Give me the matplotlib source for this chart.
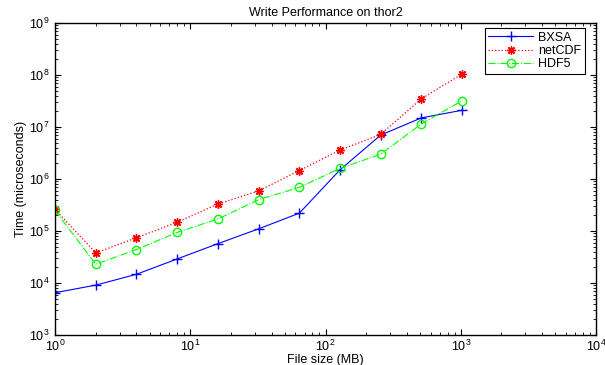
import matplotlib
matplotlib.use('Agg')
import matplotlib.pyplot as plt
from matplotlib.ticker import NullFormatter

plt.rcParams['font.family'] = ['Liberation Sans', 'DejaVu Sans']

# file sizes in MB
size_mb = [1, 2, 4, 8, 16, 32, 64, 128, 256, 512, 1024]
# write times in microseconds
bxsa = [6.5e3, 9.1e3, 1.47e4, 2.9e4, 5.7e4, 1.1e5, 2.2e5, 1.5e6, 7.0e6, 1.5e7, 2.1e7]
netcdf = [2.6e5, 3.8e4, 7.4e4, 1.47e5, 3.3e5, 5.9e5, 1.45e6, 3.6e6, 7.2e6, 3.5e7, 1.05e8]
hdf5 = [2.5e5, 2.3e4, 4.4e4, 9.4e4, 1.7e5, 4.0e5, 6.9e5, 1.6e6, 3.0e6, 1.15e7, 3.2e7]

fig = plt.figure(figsize=(6.05, 3.65), dpi=100)
ax = fig.add_axes([55/605, 30/365, 541/605, 312/365])

ax.loglog(size_mb, bxsa, color='b', ls='-', marker='+', ms=7, lw=0.8, label='BXSA')
ax.loglog(size_mb, netcdf, color='r', ls=':', marker=(8, 2, 0), ms=6, mew=1.0, lw=0.9, label='netCDF')
ax.loglog(size_mb, hdf5, color=(0, 1, 0), ls='-.', marker='o', ms=6, mfc='none', lw=0.8, label='HDF5')

ax.set_xlim(1, 1e4)
ax.set_ylim(1e3, 1e9)
ax.set_xticks([10.0**k for k in range(0, 5)])
ax.set_yticks([10.0**k for k in range(3, 10)])
ax.set_xticks([m * 10.0**k for k in range(0, 4) for m in range(2, 10)], minor=True)
ax.set_yticks([m * 10.0**k for k in range(3, 9) for m in range(2, 10)], minor=True)
ax.xaxis.set_minor_formatter(NullFormatter())
ax.yaxis.set_minor_formatter(NullFormatter())
ax.tick_params(which='both', direction='in', top=True, right=True, labelsize=9)
ax.tick_params(which='major', length=4)
ax.tick_params(axis='x', which='major', pad=3)
ax.tick_params(axis='y', which='major', pad=4)
ax.tick_params(which='minor', length=2)
for s in ax.spines.values():
    s.set_linewidth(1.0)

ax.set_title('Write Performance on thor2', fontsize=9, pad=5)
ax.set_xlabel('File size (MB)', fontsize=9, labelpad=0)
ax.set_ylabel('Time (microseconds)', fontsize=9, labelpad=1)

leg = ax.legend(loc='upper right', bbox_to_anchor=(0.98, 0.984), borderaxespad=0,
                fontsize=9, fancybox=False, edgecolor='k', framealpha=1,
                handlelength=3.6, labelspacing=0.1, borderpad=0.3, handletextpad=0.4)
leg.get_frame().set_linewidth(0.8)

fig.savefig('out.png', dpi=100)
